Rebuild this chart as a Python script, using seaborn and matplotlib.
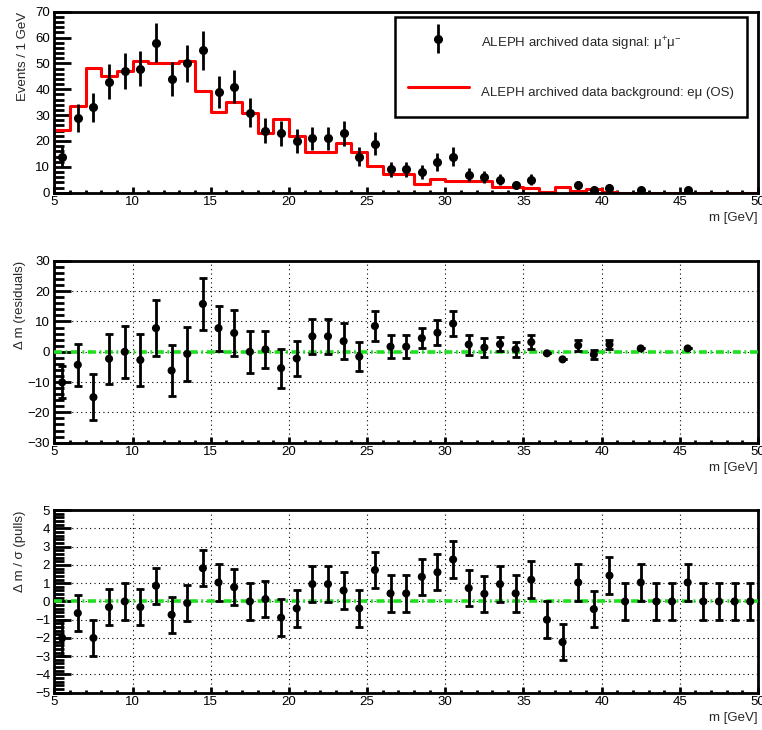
import numpy as np
import pandas as pd
import matplotlib
matplotlib.use("Agg")
import matplotlib.pyplot as plt
from matplotlib.ticker import MultipleLocator
from matplotlib.legend_handler import HandlerErrorbar
import seaborn as sns

sns.set_theme(style="ticks")
plt.rcParams["font.family"] = ["Liberation Sans", "DejaVu Sans"]
plt.rcParams["mathtext.fontset"] = "custom"
plt.rcParams["mathtext.rm"] = "Liberation Sans"
plt.rcParams["axes.edgecolor"] = "black"

# bin edges 5..50 GeV, 1 GeV wide
edges = np.arange(5, 51, 1)
centers = edges[:-1] + 0.5

# signal: mu+mu- (events per bin) and stat. errors
signal = [14, 29, 33, 43, 47, 48, 58, 44, 50, 55, 39, 41, 31, 24, 23, 20, 21, 21, 23, 14,
          19, 9, 9, 8, 12, 14, 7, 6, 5, 3, 5, 0, 0, 3, 1, 2, 0, 1, 0, 0,
          1, 0, 0, 0, 0]
signal_err = [3.7, 5.4, 5.7, 6.6, 6.9, 6.9, 7.6, 6.6, 7.1, 7.4, 6.2, 6.4, 5.6, 4.9, 4.8, 4.5, 4.6, 4.6, 4.8, 3.7,
              4.4, 3.0, 3.0, 2.8, 3.5, 3.7, 2.6, 2.4, 2.2, 1.7, 2.2, 0, 0, 1.7, 1.0, 1.4, 0, 1.0, 0, 0,
              1.0, 0, 0, 0, 0]

# background: e mu (OS)
background = [24.2, 33.4, 48.3, 45.3, 47.1, 50.8, 50.3, 50.3, 50.8, 39.3, 31.1, 34.9, 31.0, 23.1, 28.4, 22.0,
              15.7, 15.7, 19.4, 15.6, 10.3, 7.2, 7.2, 3.3, 5.4, 4.4, 4.4, 4.4, 2.3, 2.3, 1.7, 0.4,
              2.3, 0.6, 1.4, 0.4, 0, 0, 0, 0, 0, 0, 0, 0, 0]

# residuals (data - background), only drawn bins
res_x = [5.5, 6.5, 7.5, 8.5, 9.5, 10.5, 11.5, 12.5, 13.5, 14.5, 15.5, 16.5, 17.5, 18.5, 19.5, 20.5,
         21.5, 22.5, 23.5, 24.5, 25.5, 26.5, 27.5, 28.5, 29.5, 30.5, 31.5, 32.5, 33.5, 34.5, 35.5,
         36.5, 37.5, 38.5, 39.5, 40.5, 42.5, 45.5]
residuals = [-10.1, -4.3, -15.0, -2.3, 0.0, -2.7, 7.8, -6.2, -0.7, 15.8, 7.8, 6.2, 0.0, 0.8, -5.4, -2.2,
             5.1, 5.1, 3.5, -1.6, 8.5, 1.7, 1.7, 4.5, 6.3, 9.3, 2.4, 1.4, 2.5, 0.8, 3.2,
             -0.5, -2.5, 2.1, -0.9, 2.4, 1.1, 1.1]
res_err = [5.3, 6.9, 7.6, 8.3, 8.5, 8.6, 9.2, 8.4, 8.8, 8.6, 7.4, 7.6, 7.0, 6.2, 6.4, 5.8,
           5.7, 5.7, 6.0, 4.9, 5.1, 3.7, 3.7, 3.3, 4.1, 4.2, 3.3, 3.0, 2.4, 2.4, 2.4,
           0, 0, 1.9, 1.5, 1.5, 0, 0]

# pulls (residual / sigma), all bins, unit errors
pulls = [-2.0, -0.64, -2.0, -0.31, 0.0, -0.31, 0.86, -0.73, -0.09, 1.82, 1.04, 0.78, 0.0, 0.13, -0.89,
         -0.38, 0.95, 0.95, 0.6, -0.38, 1.72, 0.44, 0.44, 1.35, 1.6, 2.3, 0.73, 0.42, 0.95, 0.44,
         1.19, -1.0, -2.23, 1.04, -0.42, 1.42, 0.0, 1.04, 0.0, 0.0, 1.04, 0.0, 0.0, 0.0, 0.0]
pull_err = [1.0] * len(pulls)

FS = 9.5
GREEN = "#1fe01f"


def style_axes(ax, ylo, yhi, ymaj, ymin, grid):
    ax.set_xlim(5, 50)
    ax.set_ylim(ylo, yhi)
    ax.xaxis.set_major_locator(MultipleLocator(5))
    ax.xaxis.set_minor_locator(MultipleLocator(1))
    ax.yaxis.set_major_locator(MultipleLocator(ymaj))
    ax.yaxis.set_minor_locator(MultipleLocator(ymin))
    ax.tick_params(which="both", direction="in", top=False, right=False, colors="black",
                   labelsize=FS, width=2)
    ax.tick_params(axis="y", which="major", length=12.5, pad=3)
    ax.tick_params(axis="y", which="minor", length=7)
    ax.tick_params(axis="x", which="major", length=4, pad=2.5)
    ax.tick_params(axis="x", which="minor", length=2.5)
    for s in ax.spines.values():
        s.set_linewidth(2)
        s.set_color("black")
    if grid:
        ax.grid(True, which="major", color="black", ls=(0, (1, 3)), lw=0.8)
        ax.set_axisbelow(True)
    ax.set_xlabel("m [GeV]", loc="right", fontsize=FS, labelpad=3)


fig = plt.figure(figsize=(7.62, 7.30), dpi=100)
ax1 = fig.add_axes([0.0713, 0.736, 0.9235, 0.248])
ax2 = fig.add_axes([0.0713, 0.3936, 0.9235, 0.249])
ax3 = fig.add_axes([0.0713, 0.0511, 0.9235, 0.250])

# --- top: signal vs background
bkg_df = pd.DataFrame({"m": centers, "bkg": background})
sns.histplot(data=bkg_df, x="m", weights="bkg", bins=edges.tolist(), element="step", fill=False,
             color="red", linewidth=2.2, ax=ax1)
bkg_line = ax1.lines[0]
ax1.vlines(edges[0], 0, background[0], color="red", lw=2.2)
sig = np.array(signal, dtype=float)
sig_e = np.array(signal_err)
m = sig > 0
eb = ax1.errorbar(centers[m], sig[m], yerr=sig_e[m], fmt="o", color="black", ms=5.5,
                  elinewidth=2, capsize=0, zorder=5)
style_axes(ax1, 0, 70, 10, 2, grid=False)
ax1.set_ylabel("Events / 1 GeV", loc="top", fontsize=FS)
ax1.yaxis.set_label_coords(-0.036, 1.0)
leg = ax1.legend([eb, bkg_line],
                 ["ALEPH archived data signal: μ$^{+}$μ$^{-}$",
                  "ALEPH archived data background: eμ (OS)"],
                 loc="upper right", bbox_to_anchor=(0.984, 0.971), borderaxespad=0,
                 fontsize=FS, frameon=True, fancybox=False, edgecolor="black",
                 framealpha=1, borderpad=1.0, handlelength=4.6, handleheight=2.6,
                 handletextpad=0.9, labelspacing=1.75,
                 handler_map={type(eb): HandlerErrorbar(yerr_size=1.1)})
leg.get_frame().set_linewidth(1.8)

# --- middle: residuals
ax2.axhline(0, color=GREEN, lw=2.6, ls=(0, (2.2, 1.0, 0.5, 1.0)), zorder=3)
sns.scatterplot(x=res_x, y=residuals, color="black", s=34, edgecolor="none", zorder=6, ax=ax2)
ax2.errorbar(res_x, residuals, yerr=res_err, fmt="none", ecolor="black", elinewidth=2,
             capsize=3, capthick=2, zorder=5)
style_axes(ax2, -30, 30, 10, 2, grid=True)
ax2.set_ylabel("Δ m (residuals)", loc="top", fontsize=FS)
ax2.yaxis.set_label_coords(-0.040, 1.0)

# --- bottom: pulls
ax3.axhline(0, color=GREEN, lw=2.6, ls=(0, (2.2, 1.0, 0.5, 1.0)), zorder=3)
sns.scatterplot(x=centers, y=pulls, color="black", s=34, edgecolor="none", zorder=6, ax=ax3)
ax3.errorbar(centers, pulls, yerr=pull_err, fmt="none", ecolor="black", elinewidth=2,
             capsize=3, capthick=2, zorder=5)
style_axes(ax3, -5, 5, 1, 0.2, grid=True)
ax3.set_ylabel("Δ m / σ (pulls)", loc="top", fontsize=FS)
ax3.yaxis.set_label_coords(-0.040, 1.0)

fig.savefig("out.png", dpi=100)
